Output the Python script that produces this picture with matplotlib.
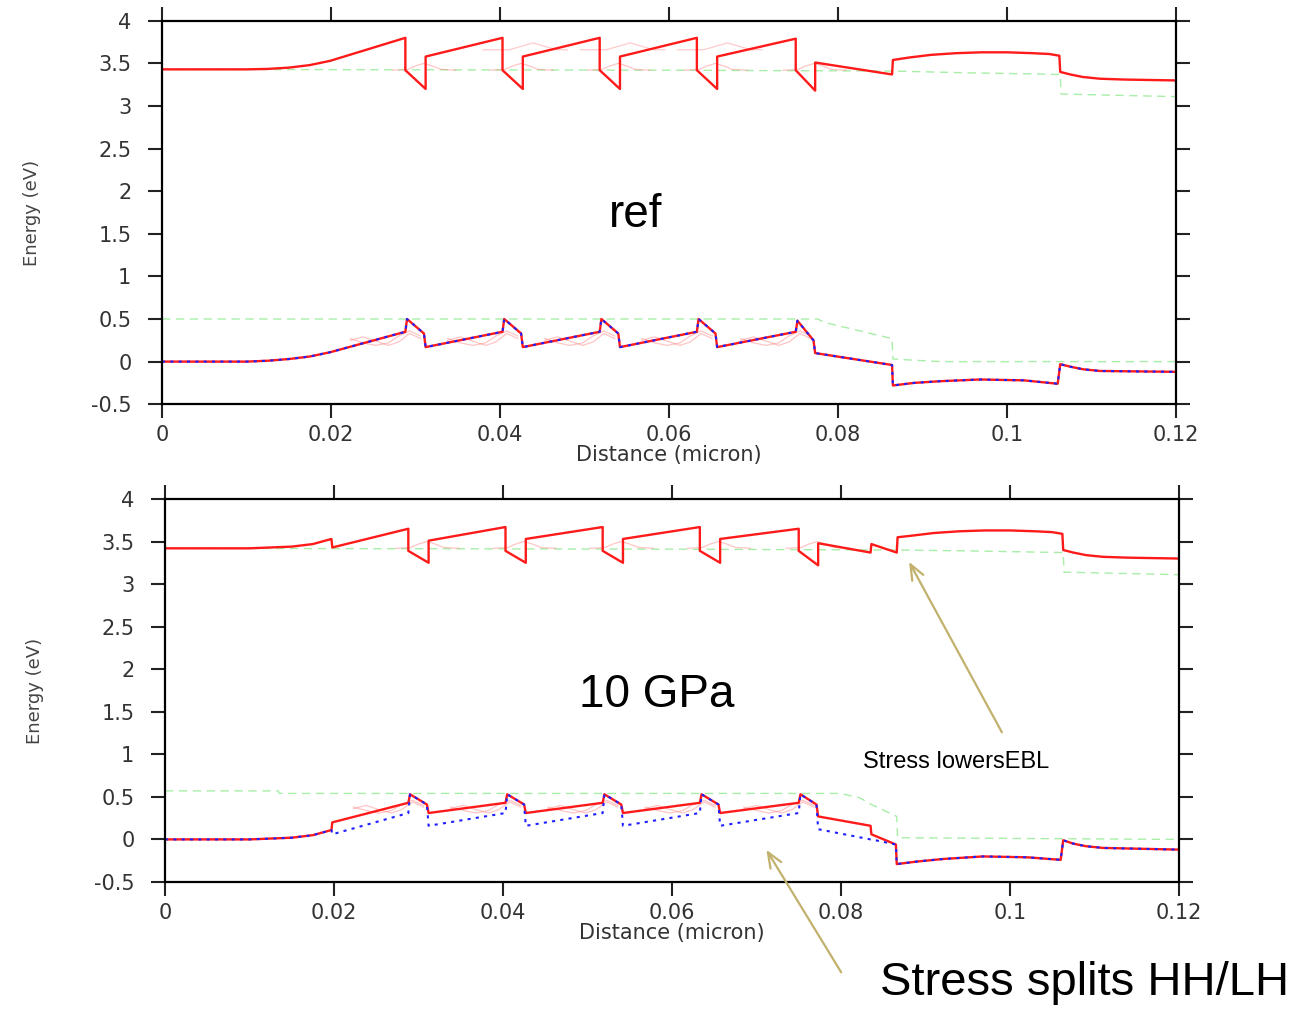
import numpy as np
import matplotlib
matplotlib.use("Agg")
import matplotlib.pyplot as plt

# ---------------- data ----------------
# x ticks / y ticks
x_ticks = [0, 0.02, 0.04, 0.06, 0.08, 0.10, 0.12]
x_tick_labels = ['0', '0.02', '0.04', '0.06', '0.08', '0.1', '0.12']
y_ticks = [-0.5, 0, 0.5, 1, 1.5, 2, 2.5, 3, 3.5, 4]
y_tick_labels = ['-0.5', '0', '0.5', '1', '1.5', '2', '2.5', '3', '3.5', '4']

# reference (unstrained) conduction band
ec_ref_x = [0.000, 0.010, 0.0125, 0.0150, 0.0175, 0.0199, 0.0288, 0.0288, 0.0312, 0.0312,
            0.0403, 0.0403, 0.0427, 0.0427, 0.0518, 0.0518, 0.0542, 0.0542, 0.0633, 0.0633,
            0.0657, 0.0657, 0.0750, 0.0750, 0.0773, 0.0773, 0.0864, 0.0865, 0.0885, 0.0910,
            0.0940, 0.0970, 0.1000, 0.1030, 0.1050, 0.1062, 0.1063, 0.1075, 0.1090, 0.1110,
            0.1140, 0.1200]
ec_ref_y = [3.43, 3.43, 3.435, 3.45, 3.48, 3.53, 3.80, 3.42, 3.20, 3.58,
            3.80, 3.42, 3.20, 3.58, 3.80, 3.42, 3.20, 3.58, 3.80, 3.42,
            3.20, 3.58, 3.79, 3.42, 3.18, 3.51, 3.37, 3.54, 3.57, 3.60,
            3.62, 3.63, 3.63, 3.62, 3.61, 3.59, 3.40, 3.37, 3.34, 3.32,
            3.31, 3.30]

# reference valence band (HH and LH coincide)
ev_ref_x = [0.000, 0.010, 0.0125, 0.0150, 0.0175, 0.0199, 0.0288, 0.0290, 0.0310, 0.0312,
            0.0403, 0.0405, 0.0425, 0.0427, 0.0518, 0.0520, 0.0540, 0.0542, 0.0633, 0.0635,
            0.0655, 0.0657, 0.0750, 0.0752, 0.0771, 0.0773, 0.0864, 0.0865, 0.0890, 0.0921,
            0.0968, 0.1020, 0.1060, 0.1063, 0.1075, 0.1090, 0.1110, 0.1200]
ev_ref_y = [0.00, 0.00, 0.01, 0.03, 0.06, 0.11, 0.35, 0.50, 0.33, 0.17,
            0.35, 0.50, 0.33, 0.17, 0.35, 0.50, 0.33, 0.17, 0.35, 0.50,
            0.33, 0.17, 0.35, 0.48, 0.25, 0.10, -0.04, -0.28, -0.25, -0.23,
            -0.21, -0.22, -0.26, -0.03, -0.06, -0.09, -0.11, -0.12]

# reference quasi-Fermi levels (green dashed)
efn_ref_x = [0.000, 0.0600, 0.0865, 0.0950, 0.1063, 0.1064, 0.1200]
efn_ref_y = [3.43, 3.42, 3.41, 3.39, 3.37, 3.14, 3.11]
efp_ref_x = [0.000, 0.0776, 0.0784, 0.0864, 0.0865, 0.0921, 0.1200]
efp_ref_y = [0.50, 0.50, 0.46, 0.27, 0.03, 0.00, 0.00]

# 10 GPa conduction band
ec_gpa_x = [0.000, 0.010, 0.0125, 0.0150, 0.0175, 0.0197, 0.0198, 0.0288, 0.0288, 0.0312,
            0.0312, 0.0403, 0.0403, 0.0427, 0.0427, 0.0518, 0.0518, 0.0542, 0.0542, 0.0633,
            0.0633, 0.0657, 0.0657, 0.0750, 0.0750, 0.0773, 0.0773, 0.0835, 0.0836, 0.0866,
            0.0867, 0.0885, 0.0910, 0.0940, 0.0970, 0.1000, 0.1030, 0.1050, 0.1062, 0.1063,
            0.1075, 0.1090, 0.1110, 0.1140, 0.1200]
ec_gpa_y = [3.42, 3.42, 3.43, 3.44, 3.47, 3.53, 3.43, 3.65, 3.39, 3.25,
            3.51, 3.67, 3.39, 3.25, 3.53, 3.67, 3.39, 3.25, 3.53, 3.67,
            3.39, 3.25, 3.53, 3.65, 3.39, 3.22, 3.48, 3.37, 3.47, 3.37,
            3.55, 3.57, 3.60, 3.62, 3.63, 3.63, 3.62, 3.61, 3.59, 3.40,
            3.37, 3.34, 3.32, 3.31, 3.30]

# 10 GPa valence bands: heavy hole (red) and light hole (blue)
ev_gpa_x = [0.000, 0.010, 0.0125, 0.0150, 0.0175, 0.0197, 0.0198, 0.0288, 0.0290, 0.0310,
            0.0312, 0.0403, 0.0405, 0.0425, 0.0427, 0.0518, 0.0520, 0.0540, 0.0542, 0.0633,
            0.0635, 0.0655, 0.0657, 0.0750, 0.0752, 0.0771, 0.0773, 0.0835, 0.0836, 0.0865,
            0.0866, 0.0890, 0.0921, 0.0968, 0.1020, 0.1060, 0.1063, 0.1075, 0.1090, 0.1110,
            0.1200]
hh_gpa_y = [0.00, 0.00, 0.01, 0.02, 0.05, 0.11, 0.20, 0.43, 0.53, 0.41,
            0.31, 0.43, 0.53, 0.41, 0.31, 0.43, 0.53, 0.41, 0.31, 0.43,
            0.53, 0.41, 0.31, 0.43, 0.53, 0.41, 0.27, 0.16, 0.06, -0.06,
            -0.29, -0.26, -0.23, -0.20, -0.21, -0.24, -0.01, -0.05, -0.08, -0.10,
            -0.12]
lh_gpa_y = [0.00, 0.00, 0.01, 0.02, 0.05, 0.11, 0.06, 0.31, 0.53, 0.41,
            0.16, 0.31, 0.53, 0.41, 0.16, 0.31, 0.53, 0.41, 0.16, 0.31,
            0.53, 0.41, 0.16, 0.31, 0.53, 0.41, 0.12, 0.00, 0.00, -0.06,
            -0.29, -0.26, -0.23, -0.20, -0.21, -0.24, -0.01, -0.05, -0.08, -0.10,
            -0.12]

efn_gpa_x = [0.000, 0.0600, 0.0865, 0.0950, 0.1063, 0.1064, 0.1200]
efn_gpa_y = [3.42, 3.41, 3.40, 3.39, 3.37, 3.14, 3.11]
efp_gpa_x = [0.000, 0.0134, 0.0135, 0.0799, 0.0822, 0.0836, 0.0866, 0.0867, 0.1200]
efp_gpa_y = [0.57, 0.57, 0.54, 0.54, 0.49, 0.41, 0.27, 0.02, 0.00]

# faint subband / wavefunction traces around each quantum well
well_x = [0.0288, 0.0403, 0.0518, 0.0633, 0.0750]
ghost_ec_dx = [-0.0015, 0.0003, 0.0012, 0.0022, 0.0032, 0.0042, 0.0060]
ghost_ec_e = [3.42, 3.43, 3.47, 3.50, 3.47, 3.43, 3.42]
ghost_hi_dx = [-0.0023, 0.0008, 0.0022, 0.0036, 0.0050, 0.0064, 0.0077]
ghost_hi_e = [3.66, 3.66, 3.70, 3.74, 3.70, 3.66, 3.66]
ghost_ev_dx = [-0.0065, -0.0050, -0.0035, -0.0020, -0.0008, 0.0005, 0.0018]
ghost_ev_ref1 = [0.27, 0.22, 0.19, 0.22, 0.30, 0.36, 0.30]
ghost_ev_ref2 = [0.25, 0.29, 0.24, 0.19, 0.23, 0.33, 0.27]
ghost_ev_gpa1 = [0.38, 0.34, 0.31, 0.34, 0.41, 0.46, 0.40]
ghost_ev_gpa2 = [0.36, 0.40, 0.35, 0.31, 0.35, 0.44, 0.38]

RED = '#ff1a1a'
BLUE = '#2020ff'
GREEN = '#a8eea8'
GHOST = '#ff8c8c'
ARROW = '#c2b16c'

fig = plt.figure(figsize=(12.99, 10.09), dpi=100)
ax1 = fig.add_axes([0.1247, 0.5994, 0.7806, 0.3800])
ax2 = fig.add_axes([0.1270, 0.1259, 0.7806, 0.3796])


def style_axes(ax):
    ax.set_xlim(0, 0.12)
    ax.set_ylim(-0.5, 4)
    ax.set_xticks(x_ticks)
    ax.set_xticklabels(x_tick_labels)
    ax.set_yticks(y_ticks)
    ax.set_yticklabels(y_tick_labels)
    for s in ax.spines.values():
        s.set_linewidth(1.6)
    ax.tick_params(axis='both', direction='out', length=10, width=1.5,
                   top=True, right=True, labelsize=15, colors='#222222',
                   labelcolor='#333333')
    ax.tick_params(axis='y', pad=12)
    ax.tick_params(axis='x', pad=5)
    ax.set_xlabel('Distance (micron)', fontsize=15, color='#333333', labelpad=0)
    ax.set_ylabel('Energy (eV)', fontsize=13, color='#444444', labelpad=36)


def draw_ghosts(ax, ev_lists, hi_wells):
    for i, p in enumerate(well_x):
        ax.plot([p + d for d in ghost_ec_dx], ghost_ec_e, color=GHOST, lw=0.9, alpha=0.5)
        for ev in ev_lists:
            ax.plot([p + d for d in ghost_ev_dx], ev, color=GHOST, lw=0.9, alpha=0.5)
        if i in hi_wells:
            ax.plot([p + d for d in ghost_hi_dx], ghost_hi_e, color=GHOST, lw=0.9, alpha=0.45)


# ---- top panel: reference ----
ax1.plot(efn_ref_x, efn_ref_y, color=GREEN, lw=1.0, ls=(0, (6, 4)))
ax1.plot(efp_ref_x, efp_ref_y, color=GREEN, lw=1.0, ls=(0, (6, 4)))
draw_ghosts(ax1, [ghost_ev_ref1, ghost_ev_ref2], [1, 2, 3])
ax1.plot(ec_ref_x, ec_ref_y, color=RED, lw=1.7)
ax1.plot(ev_ref_x, ev_ref_y, color=RED, lw=1.7)
ax1.plot(ev_ref_x, ev_ref_y, color=BLUE, lw=1.5, ls=(0, (1.5, 2.5)))
style_axes(ax1)
ax1.text(0.056, 1.72, 'ref', fontsize=33, family='Liberation Sans',
         ha='center', va='center')

# ---- bottom panel: 10 GPa ----
ax2.plot(efn_gpa_x, efn_gpa_y, color=GREEN, lw=1.0, ls=(0, (6, 4)))
ax2.plot(efp_gpa_x, efp_gpa_y, color=GREEN, lw=1.0, ls=(0, (6, 4)))
draw_ghosts(ax2, [ghost_ev_gpa1, ghost_ev_gpa2], [])
ax2.plot(ev_gpa_x, hh_gpa_y, color=RED, lw=1.7)
ax2.plot(ec_gpa_x, ec_gpa_y, color=RED, lw=1.7)
ax2.plot(ev_gpa_x, lh_gpa_y, color=BLUE, lw=1.5, ls=(0, (1.5, 2.5)))
style_axes(ax2)
ax2.text(0.0582, 1.70, '10 GPa', fontsize=33, family='Liberation Sans',
         ha='center', va='center')

ax2.annotate('', xy=(0.0879, 3.29), xytext=(0.0992, 1.23),
             arrowprops=dict(arrowstyle='->,head_length=1.1,head_width=0.45',
                             color=ARROW, lw=1.6), annotation_clip=False)
ax2.text(0.0826, 0.915, 'Stress lowersEBL', fontsize=17, family='Liberation Sans',
         ha='left', va='center')
ax2.annotate('', xy=(0.0710, -0.094), xytext=(0.0802, -1.59),
             arrowprops=dict(arrowstyle='->,head_length=1.1,head_width=0.45',
                             color=ARROW, lw=1.6), annotation_clip=False)

fig.text(880 / 1299, 1 - 983 / 1009, 'Stress splits HH/LH', fontsize=34,
         family='Liberation Sans', ha='left', va='center')

plt.savefig('out.png', dpi=100)
